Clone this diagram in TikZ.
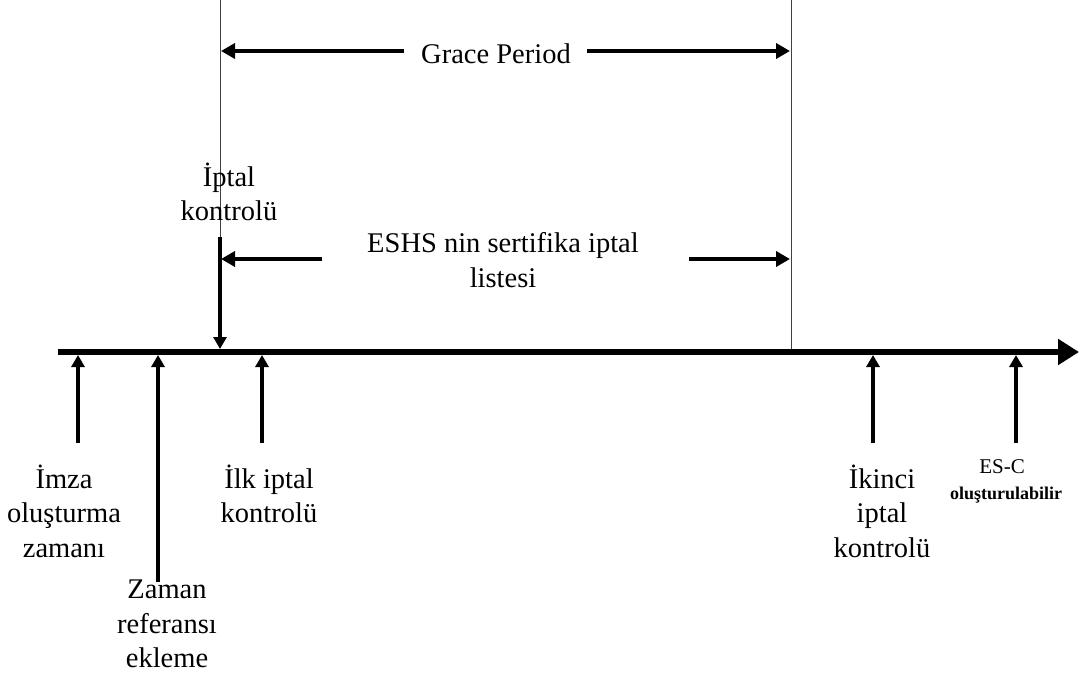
\documentclass[tikz,border=0pt]{standalone}
\usepackage{fontspec}
\setmainfont{Liberation Serif}
\usetikzlibrary{arrows.meta}
\begin{document}
\begin{tikzpicture}[x=1pt,y=-1pt,
  lbl/.style={align=center,inner sep=0pt,font=\fontsize{28.5}{34.5}\selectfont},
  small/.style={align=center,inner sep=0pt,font=\fontsize{21}{28}\selectfont},
  axis/.style={line width=6.5pt,-{Triangle[length=21pt,width=25pt]}},
  tick/.style={line width=4.5pt,-{Triangle[length=12pt,width=13pt]}},
  span/.style={line width=4.5pt,-{Triangle[length=14pt,width=15pt]}},
  guide/.style={line width=1pt,draw=black!75}]
\useasboundingbox[fill=white] (0,0) rectangle (1081,677);

% period boundaries
\coordinate (gl0) at (220,0);
\coordinate (gl1) at (220,237);
\coordinate (gr0) at (791,0);
\coordinate (gr1) at (791,350);
\draw[guide] (gl0) -- (gl1);
\draw[guide] (gr0) -- (gr1);

% time axis
\coordinate (t0) at (58,352);
\coordinate (t1) at (1079,352);
\draw[axis] (t0) -- (t1);

% grace period
\node[lbl] (grace) at (496,54) {Grace Period};
\coordinate (ga) at (404,51);
\coordinate (gat) at (221,51);
\coordinate (gb) at (587,51);
\coordinate (gbt) at (790,51);
\draw[span] (ga) -- (gat);
\draw[span] (gb) -- (gbt);

% revocation list span
\node[lbl] (eshs) at (503,260) {ESHS nin sertifika iptal\\listesi};
\coordinate (ea) at (322,259);
\coordinate (eat) at (221,259);
\coordinate (eb) at (689,259);
\coordinate (ebt) at (790,259);
\draw[span] (ea) -- (eat);
\draw[span] (eb) -- (ebt);

% revocation check (downward)
\node[lbl] (iptal) at (229,192) {İptal\\kontrolü};
\coordinate (dk) at (220,349);
\draw[tick] (gl1) -- (dk);

% events below the axis
\coordinate (a1) at (78,443);   \coordinate (a1t) at (78,355);
\coordinate (a2) at (158,582);  \coordinate (a2t) at (158,355);
\coordinate (a3) at (262,443);  \coordinate (a3t) at (262,355);
\coordinate (a4) at (873,443);  \coordinate (a4t) at (873,355);
\coordinate (a5) at (1016,443); \coordinate (a5t) at (1016,355);
\draw[tick] (a1) -- (a1t);
\draw[tick] (a2) -- (a2t);
\draw[tick] (a3) -- (a3t);
\draw[tick] (a4) -- (a4t);
\draw[tick] (a5) -- (a5t);

\node[lbl] (imza) at (64,511) {İmza\\oluşturma\\zamanı};
\node[lbl] (zaman) at (167,624) {Zaman\\referansı\\ekleme};
\node[lbl] (ilk) at (269,494) {İlk iptal\\kontrolü};
\node[lbl] (ikinci) at (882,511) {İkinci\\iptal\\kontrolü};
\node[small] (esc) at (1002,467) {ES-C};
\node[small,font=\fontsize{18}{20}\bfseries] (olus) at (1006,495) {oluşturulabilir};
\end{tikzpicture}
\end{document}
